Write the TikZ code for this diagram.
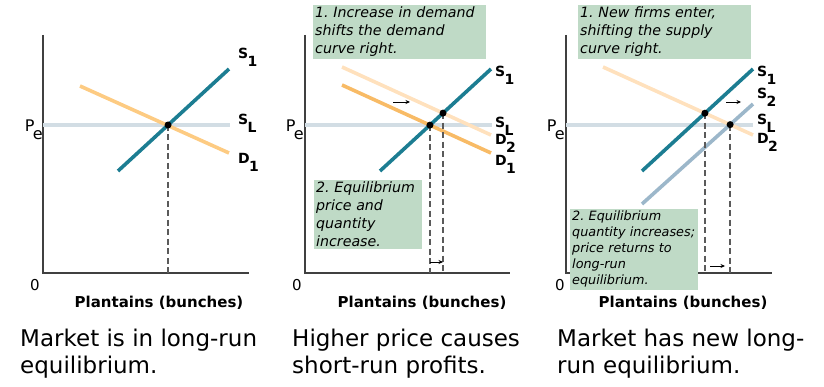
\documentclass[tikz,border=0pt]{standalone}
\usepackage{fontspec}
\setmainfont{DejaVu Sans}
\usetikzlibrary{arrows.meta}
\frenchspacing
\definecolor{teal1}{HTML}{1C7D92}
\definecolor{orgA}{HTML}{FDCB82}
\definecolor{orgB}{HTML}{F8BB66}
\definecolor{orgL}{HTML}{FFE1BD}
\definecolor{steel2}{HTML}{9CB7CA}
\definecolor{peline}{HTML}{D2DDE4}
\definecolor{boxg}{HTML}{BFDAC6}
\definecolor{dashg}{HTML}{5A5A5A}
\newcommand\sublab[2]{\textbf{#1\kern-0.05em\raisebox{-0.52em}{#2}}}
\newcommand\pelab{P\kern-0.1em\raisebox{-0.45em}{e}}
\tikzset{
  axisline/.style={line width=1.3pt, black!75},
  curve/.style={line width=3.6pt},
  peln/.style={line width=4pt, peline},
  dropline/.style={dashg, line width=1.4pt, dash pattern=on 6pt off 3.5pt},
  eqdot/.style={circle, fill=black, inner sep=0pt, minimum size=7pt},
  curvelab/.style={anchor=base west, inner sep=0pt, font=\fontsize{14}{14}\selectfont},
  pelabel/.style={anchor=base east, inner sep=0pt, font=\fontsize{16}{16}\selectfont},
  zerolab/.style={inner sep=0pt, font=\fontsize{15}{15}\selectfont},
  xlab/.style={inner sep=0pt, font=\bfseries\fontsize{15}{15}\selectfont},
  caption/.style={anchor=north west, inner sep=0pt, align=left, font=\fontsize{23}{27}\selectfont},
  notebox/.style={anchor=north west, fill=boxg, inner sep=2pt, align=left, font=\itshape\fontsize{14.2}{18}\selectfont},
  smallnote/.style={notebox, font=\itshape\fontsize{12.8}{16}\selectfont},
  shiftarrow/.style={-{Stealth[length=4.5pt,width=4pt]}, line width=0.9pt, black},
}
\begin{document}
\begin{tikzpicture}[x=1pt,y=-1pt]
\path[use as bounding box] (0,0) rectangle (824,387);

% ================= Panel 1 =================
\coordinate (o1) at (43,273);
\coordinate (t1) at (43,35);
\coordinate (r1) at (249,273);
\coordinate (pa1) at (43,125);
\coordinate (pb1) at (230,125);
\coordinate (s1a) at (118,171);
\coordinate (s1b) at (229,69);
\coordinate (d1a) at (80,86);
\coordinate (d1b) at (229,153);
\draw[axisline] (t1) -- (o1) -- (r1);
\draw[peln] (pa1) -- (pb1);
\draw[curve, orgA] (d1a) -- (d1b);
\draw[curve, teal1] (s1a) -- (s1b);
\coordinate (e1) at (intersection of s1a--s1b and pa1--pb1);
\draw[dropline] (e1) -- (e1 |- o1);
\node[eqdot] (dot1) at (e1) {};
\node[curvelab] (ls1) at (238,59) {\sublab{S}{1}};
\node[curvelab] (lsl1) at (238,125) {\sublab{S}{L}};
\node[curvelab] (ld1) at (238,164) {\sublab{D}{1}};
\node[pelabel] (pe1) at (43,132) {\pelab};
\node[zerolab] (z1) at (35,285) {0};
\node[xlab] (x1) at (159,303) {Plantains (bunches)};
\node[caption] (c1) at (20,329) {Market is in long-run\\equilibrium.};

% ================= Panel 2 =================
\coordinate (o2) at (305,273);
\coordinate (t2) at (305,35);
\coordinate (r2) at (510,273);
\coordinate (pa2) at (305,125);
\coordinate (pb2) at (492,125);
\coordinate (s2a) at (380,171);
\coordinate (s2b) at (491,69);
\coordinate (d2a) at (342,85);
\coordinate (d2b) at (491,153);
\coordinate (dd2a) at (342,67);
\coordinate (dd2b) at (491,135);
\draw[axisline] (t2) -- (o2) -- (r2);
\draw[peln] (pa2) -- (pb2);
\draw[curve, orgL] (dd2a) -- (dd2b);
\draw[curve, orgB] (d2a) -- (d2b);
\draw[curve, teal1] (s2a) -- (s2b);
\coordinate (e2a) at (intersection of s2a--s2b and d2a--d2b);
\coordinate (e2b) at (intersection of s2a--s2b and dd2a--dd2b);
\draw[dropline] (e2a) -- (e2a |- o2);
\draw[dropline] (e2b) -- (e2b |- o2);
\node[eqdot] (dot2a) at (e2a) {};
\node[eqdot] (dot2b) at (e2b) {};
\coordinate (q2a) at (e2a |- 0,262);
\coordinate (q2b) at (e2b |- 0,262);
\draw[shiftarrow] (q2a) -- (q2b);
\coordinate (m2a) at (393,102);
\coordinate (m2b) at (410,102);
\draw[shiftarrow] (m2a) -- (m2b);
\node[curvelab] (ls2) at (495,77) {\sublab{S}{1}};
\node[curvelab] (lsl2) at (495,128) {\sublab{S}{L}};
\node[curvelab] (ld22) at (495,145) {\sublab{D}{2}};
\node[curvelab] (ld21) at (495,166) {\sublab{D}{1}};
\node[pelabel] (pe2) at (304,132) {\pelab};
\node[zerolab] (z2) at (297,285) {0};
\node[xlab] (x2) at (422,303) {Plantains (bunches)};
\node[notebox, text width=169pt] (b21) at (313,5) {1. Increase in demand\\shifts the demand\\curve right.};
\node[notebox, text width=104pt] (b22) at (314,180) {2. Equilibrium\\price and\\quantity\\increase.};
\node[caption] (c2) at (292,329) {Higher price causes\\short-run profits.};

% ================= Panel 3 =================
\coordinate (o3) at (566,273);
\coordinate (t3) at (566,35);
\coordinate (r3) at (772,273);
\coordinate (pa3) at (566,125);
\coordinate (pb3) at (753,125);
\coordinate (s3a) at (642,171);
\coordinate (s3b) at (753,69);
\coordinate (ss3a) at (642,204);
\coordinate (ss3b) at (753,104);
\coordinate (d3a) at (603,67);
\coordinate (d3b) at (753,135);
\draw[axisline] (t3) -- (o3) -- (r3);
\draw[peln] (pa3) -- (pb3);
\draw[curve, orgL] (d3a) -- (d3b);
\draw[curve, steel2] (ss3a) -- (ss3b);
\draw[curve, teal1] (s3a) -- (s3b);
\coordinate (e3a) at (intersection of s3a--s3b and d3a--d3b);
\coordinate (e3b) at (intersection of ss3a--ss3b and d3a--d3b);
\draw[dropline] (e3a) -- (e3a |- o3);
\draw[dropline] (e3b) -- (e3b |- o3);
\node[eqdot] (dot3a) at (e3a) {};
\node[eqdot] (dot3b) at (e3b) {};
\coordinate (q3a) at (710,266);
\coordinate (q3b) at (725,266);
\draw[shiftarrow] (q3a) -- (q3b);
\coordinate (m3a) at (726,102);
\coordinate (m3b) at (741,102);
\draw[shiftarrow] (m3a) -- (m3b);
\node[curvelab] (ls3) at (757,77) {\sublab{S}{1}};
\node[curvelab] (ls32) at (757,99) {\sublab{S}{2}};
\node[curvelab] (lsl3) at (757,125) {\sublab{S}{L}};
\node[curvelab] (ld3) at (757,144) {\sublab{D}{2}};
\node[pelabel] (pe3) at (565,132) {\pelab};
\node[zerolab] (z3) at (560,285) {0};
\node[xlab] (x3) at (683,303) {Plantains (bunches)};
\node[notebox, text width=169pt] (b31) at (578,5) {1. New firms enter,\\shifting the supply\\curve right.};
\node[smallnote, text width=124pt] (b32) at (570,209) {2. Equilibrium\\quantity increases;\\price returns to\\long-run\\equilibrium.};
\node[caption] (c3) at (557,329) {Market has new long-\\run equilibrium.};
\end{tikzpicture}
\end{document}
